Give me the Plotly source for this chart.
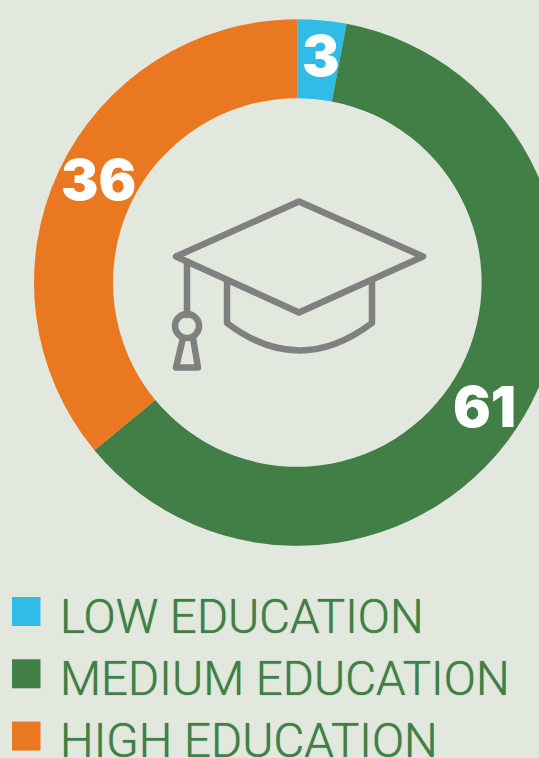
import plotly.graph_objects as go

categories = ["LOW EDUCATION", "MEDIUM EDUCATION", "HIGH EDUCATION"]
values = [3, 61, 36]
colors = ["#30BCE6", "#417F46", "#E97820"]

BG = "#E3E8DF"
W, H = 600, 758
CX, CY, R = 297.3, 282.5, 263.3


def px(x):
    return x / W


def py(y):
    return 1 - y / H


fig = go.Figure(go.Pie(
    values=values, labels=categories, sort=False, direction="clockwise", rotation=0,
    hole=0.70, textinfo="none", hoverinfo="label+value",
    marker=dict(colors=colors, line=dict(width=0)),
    domain=dict(x=[px(CX - R), px(CX + R)], y=[py(CY + R), py(CY - R)]),
    showlegend=False,
))

annotations = []
for v, (x, y) in zip(values, [(320, 56), (484, 407.5), (98.5, 180)]):
    annotations.append(dict(text=str(v), x=px(x), y=py(y), xref="paper", yref="paper",
                            xanchor="center", yanchor="middle", showarrow=False,
                            font=dict(family="Inter", size=56, color="white", weight=900)))

shapes = []
for i, (name, c) in enumerate(zip(categories, colors)):
    top = 597 + i * 62.3
    shapes.append(dict(type="rect", xref="paper", yref="paper", x0=px(12), x1=px(40.5),
                       y0=py(top), y1=py(top + 29), fillcolor=c, line=dict(width=0), layer="above"))
    annotations.append(dict(text=name, x=px(58), y=py(617 + i * 62.2), xref="paper", yref="paper",
                            xanchor="left", yanchor="middle", showarrow=False,
                            font=dict(family="Roboto", size=47.5, color=colors[1], weight=300,
                                      shadow="0 0 1px #417F46")))


def path(cmds):
    out = []
    for c in cmds:
        if len(c) == 1:
            out.append(c[0])
        else:
            op, *pts = c
            out.append(op + " " + " ".join(f"{px(x):.5f},{py(y):.5f}" for x, y in pts))
    return " ".join(out)


ICON = dict(color="#808080", width=6.5)
icon_paths = [
    [("M", (299, 201.5)), ("L", (423, 256.5)), ("L", (299, 312.5)), ("L", (176, 256.5)), ("Z",)],
    [("M", (227, 280)), ("L", (227, 323)), ("Q", (299, 378), (372, 323)), ("L", (372, 280))],
    [("M", (187, 262)), ("L", (187, 315))],
    [("M", (183, 338)), ("L", (176, 367.5)), ("L", (198, 367.5)), ("L", (193, 338))],
]
for p in icon_paths:
    shapes.append(dict(type="path", xref="paper", yref="paper", path=path(p), line=ICON,
                       layer="above"))
shapes.append(dict(type="circle", xref="paper", yref="paper", x0=px(175), x1=px(199),
                   y0=py(338), y1=py(314), line=ICON, layer="above"))

fig.update_layout(
    width=W, height=H, autosize=False, margin=dict(l=0, r=0, t=0, b=0, pad=0),
    paper_bgcolor=BG, plot_bgcolor=BG, shapes=shapes, annotations=annotations,
)
fig.write_html("out.html", config=dict(displayModeBar=False),
               post_script="document.documentElement.style.overflow='hidden';"
                           "document.body.style.margin='0';document.body.style.overflow='hidden';"
                           "document.querySelectorAll('.shapelayer path').forEach(function(e){"
                           "e.style.strokeLinejoin='round';e.style.strokeLinecap='round';});")
